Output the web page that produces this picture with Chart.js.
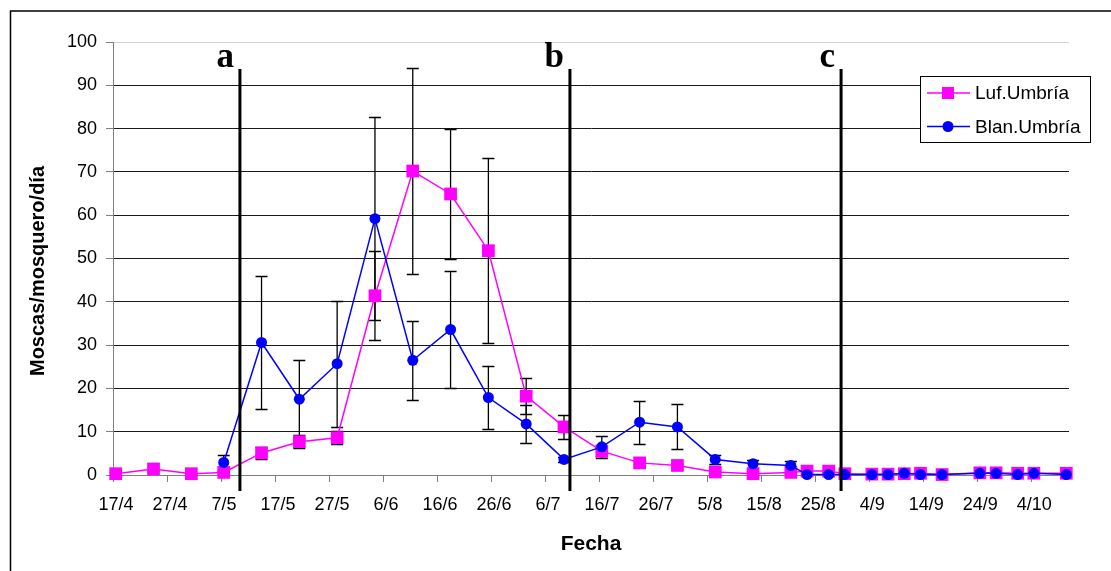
<!DOCTYPE html>
<html>
<head>
<meta charset="utf-8">
<script src="https://cdn.jsdelivr.net/npm/chart.js@4.4.0/dist/chart.umd.min.js"></script>
<style>
html, body { margin: 0; padding: 0; background: #fff; }
#wrap { width: 1111px; height: 571px; }
</style>
</head>
<body>
<div id="wrap"><canvas id="grafico" width="1111" height="571"></canvas></div>
<script>
// fechas de muestreo (dia/mes)
const fechas = ["17/4", "24/4", "1/5", "7/5", "14/5", "21/5", "28/5", "4/6", "11/6", "18/6", "25/6",
  "2/7", "9/7", "16/7", "23/7", "30/7", "6/8", "13/8", "20/8", "23/8", "27/8", "30/8",
  "4/9", "7/9", "10/9", "13/9", "17/9", "24/9", "27/9", "1/10", "4/10", "10/10"];

const tickLabels = ["17/4", "27/4", "7/5", "17/5", "27/5", "6/6", "16/6", "26/6", "6/7",
  "16/7", "26/7", "5/8", "15/8", "25/8", "4/9", "14/9", "24/9", "4/10"];

const lufUmbria = [0.3, 1.4, 0.3, 0.6, 5.1, 7.7, 8.6, 41.4, 70.2, 64.9, 51.8,
  18.2, 11.1, 5.5, 2.8, 2.2, 0.7, 0.3, 0.6, 0.9, 0.9, 0.3,
  0.2, 0.2, 0.3, 0.4, 0.1, 0.5, 0.5, 0.4, 0.4, 0.4];
const lufError = [0.3, 0.4, 0.2, 0.3, 1.45, 1.5, 1.5, 10.3, 23.7, 15.1, 21.3,
  4.2, 2.8, 1.2, 0.5, 0.3, 0.5, 0.2, 0.2, 0.2, 0.2, 0.1,
  0, 0, 0, 0, 0, 0, 0, 0, 0, 0];

const blanUmbria = [null, null, null, 2.9, 30.6, 17.5, 25.7, 59.2, 26.5, 33.6, 17.9,
  11.8, 3.6, 6.5, 12.2, 11.1, 3.6, 2.6, 2.2, 0.1, 0.1, 0.1,
  0.1, 0.1, 0.4, 0.1, 0.1, 0.4, 0.4, 0.1, 0.4, 0.1];
const blanError = [null, null, null, 1.7, 15.4, 9, 14.5, 23.4, 9.1, 13.4, 7.3,
  4.3, 0.6, 2.5, 5.0, 5.2, 1.0, 0.9, 1.0, 0, 0, 0,
  0, 0, 0, 0, 0, 0, 0, 0, 0, 0];

// periodos a, b, c (dias desde 17/4)
const marcas = ["a", "b", "c"];
const marcasDia = [23.5, 84.6, 134.8];

const inicio = Date.UTC(2001, 3, 17);
function dia(f) {
  let [d, m] = f.split("/").map(Number);
  return (Date.UTC(2001, m - 1, d) - inicio) / 864e5 + 0.5;
}
function puntos(valores) {
  return fechas.map((f, i) => ({ x: dia(f), y: valores[i] }));
}

const FONT = "'Liberation Sans', Arial, sans-serif";

let fondo = {
  id: "fondo",
  beforeDraw(chart) {
    let ctx = chart.ctx;
    ctx.save();
    ctx.fillStyle = "#fff";
    ctx.fillRect(0, 0, chart.width, chart.height);
    ctx.restore();
  },
};

let barrasError = {
  id: "barrasError",
  beforeDatasetsDraw(chart) {
    let ctx = chart.ctx;
    let y = chart.scales.y;
    ctx.save();
    ctx.strokeStyle = "#000";
    ctx.lineWidth = 1.3;
    chart.data.datasets.forEach((ds, k) => {
      let meta = chart.getDatasetMeta(k);
      meta.data.forEach((pt, i) => {
        let v = ds.data[i].y;
        let e = ds.errores[i];
        if (v == null || !e) return;
        let y1 = Math.round(y.getPixelForValue(v + e)) + 0.5;
        let y2 = Math.round(y.getPixelForValue(v - e)) + 0.5;
        ctx.beginPath();
        ctx.moveTo(pt.x, y1);
        ctx.lineTo(pt.x, y2);
        ctx.moveTo(pt.x - 6, y1);
        ctx.lineTo(pt.x + 6, y1);
        ctx.moveTo(pt.x - 6, y2);
        ctx.lineTo(pt.x + 6, y2);
        ctx.stroke();
      });
    });
    ctx.restore();
  },
};

let periodos = {
  id: "periodos",
  afterDatasetsDraw(chart) {
    let ctx = chart.ctx;
    let x = chart.scales.x;
    ctx.save();
    ctx.strokeStyle = "#000";
    ctx.lineWidth = 3;
    ctx.fillStyle = "#000";
    ctx.font = "bold 35px 'Liberation Serif', 'Times New Roman', serif";
    ctx.textAlign = "right";
    ctx.textBaseline = "alphabetic";
    marcasDia.forEach((d, i) => {
      let px = x.getPixelForValue(d);
      ctx.beginPath();
      ctx.moveTo(px, 69);
      ctx.lineTo(px, 491);
      ctx.stroke();
      ctx.fillText(marcas[i], px - 6, 67);
    });
    ctx.restore();
  },
};

let adornos = {
  id: "adornos",
  afterDraw(chart) {
    let ctx = chart.ctx;
    ctx.save();
    // marco exterior
    ctx.strokeStyle = "#000";
    ctx.lineWidth = 1.5;
    ctx.strokeRect(10.5, 11, 1120, 600);

    // titulos
    ctx.fillStyle = "#000";
    ctx.textAlign = "center";
    ctx.textBaseline = "middle";
    ctx.font = "bold 21px " + FONT;
    ctx.fillText("Fecha", 591, 544);
    ctx.save();
    ctx.translate(38, 271);
    ctx.rotate(-Math.PI / 2);
    ctx.font = "bold 20px " + FONT;
    ctx.fillText("Moscas/mosquero/día", 0, 0);
    ctx.restore();

    // leyenda
    ctx.fillStyle = "#fff";
    ctx.fillRect(920, 76, 170, 66);
    ctx.lineWidth = 1;
    ctx.strokeStyle = "#000";
    ctx.strokeRect(920.5, 76.5, 170, 66);
    let items = [
      { txt: "Luf.Umbría", color: "#ff00ff", forma: "rect", y: 93 },
      { txt: "Blan.Umbría", color: "#0000ff", forma: "circle", y: 126.5 },
    ];
    ctx.font = "19px " + FONT;
    ctx.textAlign = "left";
    for (let it of items) {
      ctx.strokeStyle = it.color;
      ctx.lineWidth = 1.5;
      ctx.beginPath();
      ctx.moveTo(927, it.y);
      ctx.lineTo(970, it.y);
      ctx.stroke();
      ctx.fillStyle = it.color;
      if (it.forma == "rect") {
        ctx.fillRect(942, it.y - 6, 12, 12);
      } else {
        ctx.beginPath();
        ctx.arc(948, it.y, 5.5, 0, Math.PI * 2);
        ctx.fill();
      }
      ctx.fillStyle = "#000";
      ctx.fillText(it.txt, 975, it.y + 1);
    }
    ctx.restore();
  },
};

let datos = {
  datasets: [
    {
      label: "Luf.Umbría",
      data: puntos(lufUmbria),
      errores: lufError,
      borderColor: "#ff00ff",
      backgroundColor: "#ff00ff",
      borderWidth: 1.5,
      pointStyle: "rect",
      pointRadius: 9,
      pointBorderWidth: 0,
      tension: 0,
      clip: false,
      order: 2,
    },
    {
      label: "Blan.Umbría",
      data: puntos(blanUmbria),
      errores: blanError,
      borderColor: "#0000ff",
      backgroundColor: "#0000ff",
      borderWidth: 1.5,
      pointStyle: "circle",
      pointRadius: 5.5,
      pointBorderWidth: 0,
      tension: 0,
      clip: false,
      order: 1,
    },
  ],
};

let opciones = {
  responsive: false,
  animation: false,
  devicePixelRatio: 1,
  layout: {
    padding: { left: 0, top: 42, right: 42, bottom: 0 },
  },
  plugins: {
    legend: { display: false },
    tooltip: { enabled: false },
  },
  scales: {
    x: {
      type: "linear",
      min: 0,
      max: 177,
      afterFit: (s) => { s.height = 96; },
      border: { color: "#808080", width: 1 },
      grid: {
        drawOnChartArea: false,
        tickLength: 7,
        tickColor: "#808080",
      },
      ticks: {
        stepSize: 10,
        includeBounds: false,
        autoSkip: false,
        maxRotation: 0,
        labelOffset: 3,
        padding: 12,
        color: "#000",
        font: { family: FONT, size: 18 },
        callback: (v) => tickLabels[Math.round(v / 10)],
      },
    },
    y: {
      min: 0,
      max: 100,
      afterFit: (s) => { s.width = 113; },
      border: { color: "#808080", width: 1 },
      grid: {
        tickLength: 7,
        tickColor: "#808080",
        color: (c) => (c.tick.value == 100 ? "#d4d4d4" : c.tick.value == 0 ? "#808080" : "#1a1a1a"),
      },
      ticks: {
        stepSize: 10,
        padding: 9,
        color: "#000",
        font: { family: FONT, size: 18 },
      },
    },
  },
};

let grafico = new Chart(document.getElementById("grafico").getContext("2d"), {
  type: "line",
  data: datos,
  options: opciones,
  plugins: [fondo, barrasError, periodos, adornos],
});
</script>
</body>
</html>
